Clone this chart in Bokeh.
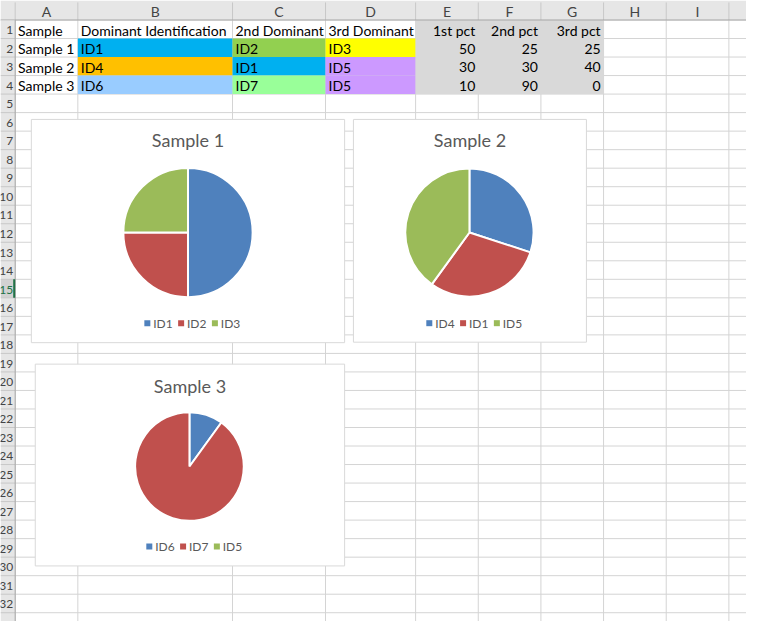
import numpy as np
from bokeh.plotting import figure
from bokeh.models import Range1d
from bokeh.core.properties import value
from bokeh.embed import file_html
from bokeh.resources import INLINE

# ---- sheet data ----
col_letters = ["A", "B", "C", "D", "E", "F", "G", "H", "I"]
header = ["Sample", "Dominant Identification", "2nd Dominant", "3rd Dominant",
          "1st pct", "2nd pct", "3rd pct"]
samples = ["Sample 1", "Sample 2", "Sample 3"]
dominant = ["ID1", "ID4", "ID6"]
second = ["ID2", "ID1", "ID7"]
third = ["ID3", "ID5", "ID5"]
pct1 = [50, 30, 10]
pct2 = [25, 30, 90]
pct3 = [25, 40, 0]

# cell fills for the ID columns (styles, kept apart from the data)
dominant_fill = ["#00B0F0", "#FFC000", "#99CCFF"]
second_fill = ["#92D050", "#00B0F0", "#99FF99"]
third_fill = ["#FFFF00", "#CC99FF", "#CC99FF"]
pie_colors = ["#4F81BD", "#C0504D", "#9BBB59"]

FONT = value("Lato")
W, H = 762, 637

# sheet geometry in screen pixels
col_edges = [15, 79, 237, 332, 424, 488, 552, 616, 680, 744, 808]
head_h = 20
row_h = 19
n_rows = 33
row_top = [head_h + row_h * k for k in range(n_rows + 1)]

p = figure(width=746, height=621, x_range=Range1d(0, W), y_range=Range1d(H, 0),
           output_backend="svg", toolbar_location=None, min_border=0)
p.axis.visible = False
p.grid.visible = False
p.outline_line_color = None

# gridlines
p.segment(x0=col_edges, y0=head_h, x1=col_edges, y1=H, line_color="#D4D4D4", line_width=1)
p.segment(x0=col_edges[0], y0=row_top, x1=W, y1=row_top, line_color="#D4D4D4", line_width=1)

# filled cells hide the gridlines
for r in range(3):
    top, bot = row_top[r + 1], row_top[r + 2]
    p.quad(left=col_edges[1:4], right=col_edges[2:5], top=top, bottom=bot,
           fill_color=[dominant_fill[r], second_fill[r], third_fill[r]], line_color=None)
p.quad(left=col_edges[4], right=col_edges[7], top=row_top[0], bottom=row_top[4],
       fill_color="#D9D9D9", line_color=None)

# column headers
p.quad(left=0, right=W, top=0, bottom=head_h, fill_color="#E6E6E6", line_color=None)
p.segment(x0=col_edges, y0=2, x1=col_edges, y1=head_h, line_color="#C8C8C8")
p.segment(x0=0, y0=head_h, x1=W, y1=head_h, line_color="#A6A6A6")
mid_x = [(a + b) / 2 for a, b in zip(col_edges[:-1], col_edges[1:])]
p.text(x=mid_x[:len(col_letters)], y=head_h / 2 + 1, text=col_letters, text_font=FONT,
       text_font_size="14px", text_color="#444444", text_align="center", text_baseline="middle")

# row headers
p.quad(left=0, right=col_edges[0], top=head_h, bottom=H, fill_color="#E6E6E6", line_color=None)
sel = 15
p.quad(left=0, right=col_edges[0], top=row_top[sel - 1], bottom=row_top[sel],
       fill_color="#D2D2D2", line_color=None)
p.segment(x0=0, y0=row_top, x1=col_edges[0], y1=row_top, line_color="#C8C8C8")
p.segment(x0=col_edges[0], y0=head_h, x1=col_edges[0], y1=H, line_color="#A6A6A6")
p.segment(x0=col_edges[0] - 1, y0=row_top[sel - 1], x1=col_edges[0] - 1, y1=row_top[sel],
          line_color="#217346", line_width=2)
row_nums = [str(k + 1) for k in range(n_rows - 1)]
row_mid = [(a + b) / 2 + 1 for a, b in zip(row_top[:-1], row_top[1:])]
num_colors = ["#217346" if k + 1 == sel else "#444444" for k in range(len(row_nums))]
p.text(x=col_edges[0] - 2, y=row_mid[:len(row_nums)], text=row_nums, text_font=FONT,
       text_font_size="12px", text_color=num_colors, text_align="right", text_baseline="middle")

# cell texts
text_cols = [header[:4]] + [[samples[r], dominant[r], second[r], third[r]] for r in range(3)]
num_cols = [header[4:]] + [[str(pct1[r]), str(pct2[r]), str(pct3[r])] for r in range(3)]
for r in range(4):
    y = row_mid[r]
    p.text(x=[e + 3 for e in col_edges[:4]], y=y, text=text_cols[r], text_font=FONT,
           text_font_size="14px", text_color="black", text_align="left", text_baseline="middle")
    p.text(x=[e - 3 for e in col_edges[5:8]], y=y, text=num_cols[r], text_font=FONT,
           text_font_size="14px", text_color="black", text_align="right", text_baseline="middle")

# ---- embedded pie charts ----
charts = [
    # box (left, right, top, bottom), pie centre, radius, title y, legend y
    dict(box=(31.5, 351.5, 122, 351), c=(191.5, 238), r=66, ty=143, ly=331),
    dict(box=(360.5, 598.5, 122, 350.5), c=(479, 238), r=65.5, ty=143, ly=331),
    dict(box=(35.5, 351.5, 373, 580), c=(193, 478), r=55.5, ty=395, ly=560),
]

for i, ch in enumerate(charts):
    left, right, top, bot = ch["box"]
    p.quad(left=left, right=right, top=top, bottom=bot, fill_color="white",
           line_color="#D9D9D9", line_width=1)
    cx, cy = ch["c"]
    labels = [dominant[i], second[i], third[i]]
    vals = np.array([pct1[i], pct2[i], pct3[i]], dtype=float)
    cum = np.cumsum(vals) / vals.sum()
    starts = np.pi / 2 - 2 * np.pi * np.concatenate([[0], cum[:-1]])
    ends = np.pi / 2 - 2 * np.pi * cum
    keep = vals > 0
    p.wedge(x=cx, y=cy, radius=ch["r"], start_angle=starts[keep], end_angle=ends[keep],
            direction="clock", fill_color=[c for c, k in zip(pie_colors, keep) if k],
            line_color="white", line_width=2)
    mid = (left + right) / 2
    p.text(x=mid, y=ch["ty"], text=[f"Sample {i + 1}"], text_font=FONT, text_font_size="18px",
           text_color="#595959", text_align="center", text_baseline="middle")
    lx = [mid + k * 34.5 for k in (-1, 0, 1)]
    p.scatter(x=[v - 7 for v in lx], y=ch["ly"], marker="square", size=6,
              fill_color=pie_colors, line_color=None)
    p.text(x=[v - 1 for v in lx], y=ch["ly"], text=labels, text_font=FONT, text_font_size="12px",
           text_color="#595959", text_align="left", text_baseline="middle")

open("out.html", "w").write(file_html(p, INLINE))
